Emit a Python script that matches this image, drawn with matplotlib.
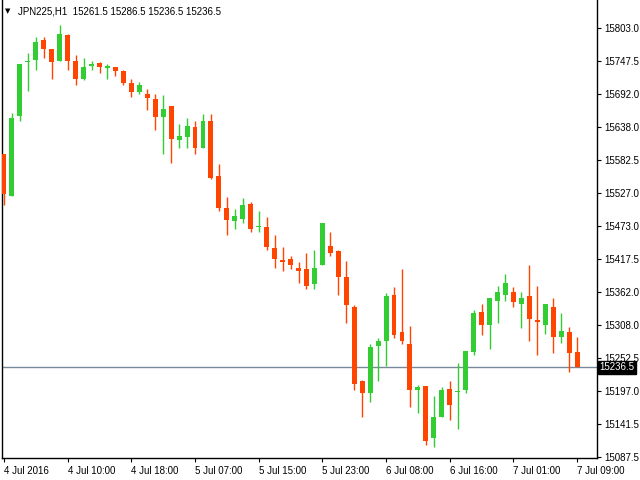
import numpy as np
import matplotlib
matplotlib.use("Agg")
import matplotlib.pyplot as plt
import matplotlib.transforms as mtransforms

# -----------------------------
# JPN225 H1 candles (bar index 0..72)
# -----------------------------
opens = [15593, 15522, 15656, 15746, 15748.5, 15782.5, 15767.5, 15747, 15791, 15748,
         15718, 15738.5, 15744.5, 15735, 15738, 15731, 15711, 15695, 15693, 15684.5,
         15653.5, 15673, 15615, 15620, 15638, 15603, 15648, 15556, 15503, 15480,
         15484.5, 15509.5, 15470, 15471, 15436, 15416, 15417.5, 15402.5, 15401, 15375,
         15406.5, 15439.5, 15431, 15387.5, 15337.5, 15214, 15193, 15271.5, 15280, 15357.5,
         15296, 15276, 15199.5, 15206, 15118, 15153, 15201, 15196, 15198, 15261.5,
         15329.5, 15306.5, 15346.5, 15358, 15362.5, 15341.5, 15356, 15316, 15306.5, 15337.5,
         15286.5, 15296, 15261.5]
highs = [15593, 15661, 15743, 15760, 15788, 15788, 15768, 15808, 15793, 15758,
         15753, 15747.5, 15745, 15743, 15738, 15733, 15718, 15713, 15700, 15693,
         15691, 15673, 15643, 15653, 15648, 15659.5, 15659.5, 15576, 15521, 15501,
         15519.5, 15513, 15498, 15488, 15457.5, 15437.5, 15422.5, 15412.5, 15427.5, 15432.5,
         15478, 15462.5, 15432.5, 15414.5, 15341, 15216, 15276, 15286, 15361, 15371,
         15401, 15306, 15207.5, 15206, 15189, 15204, 15214, 15244, 15264, 15332.5,
         15342.5, 15352.5, 15372.5, 15392.5, 15371, 15362.5, 15407.5, 15372.5, 15342.5, 15352.5,
         15327.5, 15304.5, 15286.5]
lows = [15507, 15522, 15647, 15697, 15732, 15752, 15718, 15747, 15732, 15707,
        15716, 15732, 15727, 15717, 15722, 15707, 15687, 15692, 15666, 15632,
        15592, 15577, 15602, 15602, 15592, 15602, 15550, 15498, 15457, 15468,
        15478, 15461.5, 15461.5, 15431.5, 15401.5, 15398, 15400, 15376.5, 15366.5, 15366.5,
        15406.5, 15421.5, 15356.5, 15310, 15198, 15154.5, 15179.5, 15214.5, 15239.5, 15285,
        15275, 15170, 15160, 15106.5, 15103, 15153, 15148, 15133, 15193, 15258,
        15290, 15268, 15310, 15346.5, 15336.5, 15301.5, 15280, 15258, 15291.5, 15260,
        15276.5, 15228, 15236.5]
closes = [15525, 15653, 15743, 15748, 15779, 15767, 15745, 15793, 15747, 15717,
          15738, 15743, 15737, 15738.5, 15731, 15710, 15696, 15708, 15685, 15653.5,
          15668, 15617, 15623, 15639.5, 15602, 15648, 15553, 15503, 15483, 15489.5,
          15508, 15466.5, 15472.5, 15436.5, 15416.5, 15411.5, 15406.5, 15396.5, 15371.5, 15402.5,
          15477.5, 15426.5, 15388, 15340, 15209.5, 15193, 15271, 15281, 15356, 15290,
          15280, 15199.5, 15204, 15113, 15154, 15199, 15173, 15197.5, 15264, 15327.5,
          15306.5, 15352.5, 15362.5, 15377.5, 15345, 15352.5, 15316.5, 15311.5, 15342.5, 15286.5,
          15297.5, 15260, 15236.5]

price_ticks = [15087.5, 15141.5, 15197.0, 15252.5, 15308.0, 15362.0, 15417.5,
               15473.0, 15527.0, 15582.5, 15638.0, 15692.0, 15747.5, 15803.0]
time_ticks = [0, 8, 16, 24, 32, 40, 48, 56, 64, 72]
time_labels = ["4 Jul 2016", "4 Jul 10:00", "4 Jul 18:00", "5 Jul 07:00", "5 Jul 15:00",
               "5 Jul 23:00", "6 Jul 08:00", "6 Jul 16:00", "7 Jul 01:00", "7 Jul 09:00"]
last_price = 15236.5

UP = "#32CD32"
DOWN = "#FF4500"

plt.rcParams["font.family"] = ["Liberation Sans", "DejaVu Sans"]

fig = plt.figure(figsize=(6.4, 4.8), dpi=100)
ax = fig.add_axes([2 / 640, 22 / 480, 595 / 640, 458 / 480])

o = np.array(opens)
h = np.array(highs)
l = np.array(lows)
c = np.array(closes)
x = np.arange(len(o))
cols = [UP if cc >= oo else DOWN for oo, cc in zip(o, c)]

# wicks
ax.vlines(x, l, h, colors=cols, linewidth=1.0, zorder=2)
# bodies (doji get a thin line)
body_bottom = np.minimum(o, c)
body_height = np.maximum(np.abs(c - o), 1.8)
ax.bar(x, body_height, bottom=body_bottom, width=0.62, color=cols,
       linewidth=0, zorder=3)

# last price line
ax.axhline(last_price, color="#778899", linewidth=1.0, zorder=1)

ax.set_xlim(-0.25, 74.5)
ax.set_ylim(15085.4, 15849.2)

ax.yaxis.tick_right()
ax.set_yticks(price_ticks)
ax.set_yticklabels([f"{v:.1f}" for v in price_ticks])
ax.set_xticks(time_ticks)
ax.set_xticklabels(time_labels)
for lab in ax.get_xticklabels():
    lab.set_horizontalalignment("left")
ax.tick_params(axis="both", direction="out", length=3, width=0.8,
               labelsize=7, colors="black", pad=2)
ax.tick_params(axis="x", pad=3)

ax.spines["top"].set_visible(False)
for s in ["left", "bottom", "right"]:
    ax.spines[s].set_linewidth(1.0)
    ax.spines[s].set_color("black")

# price label on the axis
trans = mtransforms.blended_transform_factory(ax.transAxes, ax.transData)
ax.text(1.004, last_price, f"{last_price:.1f}", transform=trans, ha="left",
        va="center", fontsize=7, color="white", zorder=5,
        bbox=dict(boxstyle="square,pad=0.15", facecolor="black", edgecolor="black"))

# header
fig.text(5 / 640, 1 - 11 / 480, "\u25bc", fontsize=5, family="DejaVu Sans",
         va="center", ha="left")
fig.text(18 / 640, 1 - 11 / 480, "JPN225,H1  15261.5 15286.5 15236.5 15236.5",
         fontsize=7, va="center", ha="left")

fig.savefig("out.png", dpi=100)
